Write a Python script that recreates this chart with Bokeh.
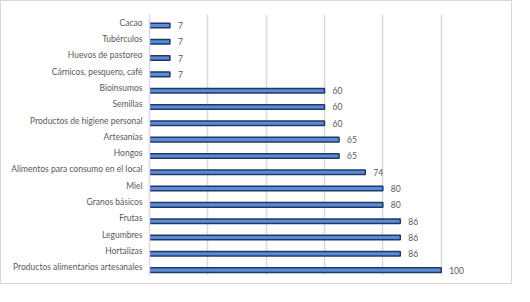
from bokeh.plotting import figure
from bokeh.models import FactorRange, SingleIntervalTicker, ColumnDataSource
from bokeh.transform import dodge
from bokeh.core.properties import value
from bokeh.embed import file_html
from bokeh.resources import INLINE

categories = ["Cacao", "Tubérculos", "Huevos de pastoreo", "Cárnicos, pesquero, café",
              "Bioinsumos", "Semillas", "Productos de higiene personal", "Artesanías",
              "Hongos", "Alimentos para consumo en el local", "Miel", "Granos básicos",
              "Frutas", "Legumbres", "Hortalizas", "Productos alimentarios artesanales"]
values = [7, 7, 7, 7, 60, 60, 60, 65, 65, 74, 80, 80, 86, 86, 86, 100]
labels = [str(v) for v in values]

FONT = "Lato"
GRAY = "#595959"
GRID = "#d9d9d9"

src = ColumnDataSource(dict(cat=categories, val=values, lab=labels))

p = figure(width=512, height=284, output_backend="svg", toolbar_location=None,
           y_range=FactorRange(factors=categories[::-1], range_padding=0),
           x_range=(0, 120),
           min_border_left=148, min_border_right=14, min_border_top=13, min_border_bottom=10)
p.styles = {"border": "1px solid #d9d9d9"}
p.outline_line_color = None
p.background_fill_color = "white"

ycoord = dodge("cat", -0.17, range=p.y_range)
p.hbar(y=ycoord, right="val", left=0, height=0.28, source=src,
       fill_color="#5b8bd6", line_color="#1f3864", line_width=1.5)
p.text(x="val", y=ycoord, text="lab", source=src, x_offset=8,
       text_baseline="middle", text_align="left", text_color=GRAY,
       text_font=value(FONT), text_font_size="8.5px")

p.xaxis.visible = False
p.xaxis.ticker = SingleIntervalTicker(interval=20)
p.xgrid.ticker = SingleIntervalTicker(interval=20)
p.xgrid.grid_line_color = GRID
p.xgrid.grid_line_width = 1.5
p.ygrid.grid_line_color = None

ax = p.yaxis[0]
ax.axis_line_color = GRID
ax.axis_line_width = 1.5
ax.major_tick_line_color = None
ax.minor_tick_line_color = None
ax.major_tick_out = 0
ax.major_tick_in = 0
ax.major_label_standoff = 7
ax.major_label_text_font = FONT
ax.major_label_text_font_size = "8.5px"
ax.major_label_text_color = GRAY

open("out.html", "w").write(file_html(p, INLINE))
